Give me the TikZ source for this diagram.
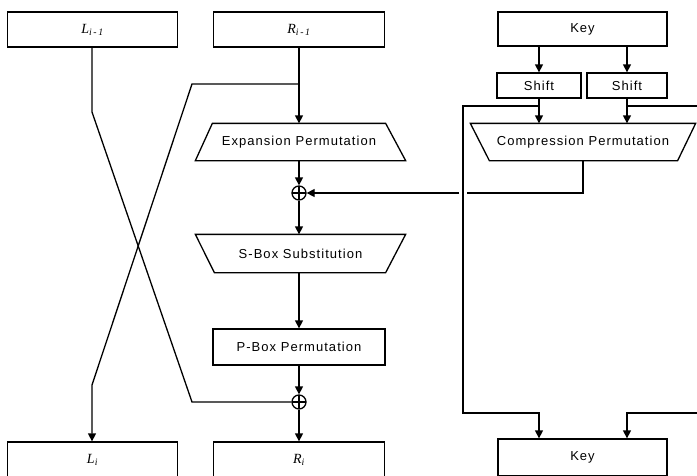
\documentclass[tikz,border=0pt]{standalone}
\usepackage{fontspec}
\setmainfont{Liberation Sans}[LetterSpace=8]
\newfontfamily\labfont{Liberation Serif}
\usetikzlibrary{arrows.meta}
\newcommand{\lab}[2]{{\labfont\itshape\fontsize{14}{16}\selectfont #1\textsubscript{#2}}}
\begin{document}
\begin{tikzpicture}[x=1pt,y=-1pt,
  line width=1.3pt,
  every node/.style={font=\fontsize{13}{15}\selectfont},
  box/.style={draw, rectangle, inner sep=0pt},
  trap/.style={rectangle, inner sep=0pt, minimum height=36pt},
  arr/.style={-{Triangle[length=8pt,width=8pt]}},
  xorn/.style={circle, draw, minimum size=14pt, inner sep=0pt,
    path picture={\draw[line width=1.1pt] (path picture bounding box.north) -- (path picture bounding box.south)
      (path picture bounding box.west) -- (path picture bounding box.east);}}
]
\useasboundingbox (0,0) rectangle (697,475);
\clip (0,0) rectangle (697,475);

% top row
\node[box, minimum width=170pt, minimum height=35pt] (L0) at (92.5,29.5) {\lab{L}{i\,-\,1}};
\node[box, minimum width=171pt, minimum height=35pt] (R0) at (299,29.5) {\lab{R}{i\,-\,1}};
\node[box, minimum width=169pt, minimum height=34pt] (K0) at (582.5,29) {Key};
\node[box, minimum width=84pt, minimum height=25pt] (S1) at (539,85.5) {Shift};
\node[box, minimum width=80pt, minimum height=25pt] (S2) at (627,85.5) {Shift};

% trapezoids
\node[trap, minimum width=224pt] (CP) at (583,142) {Compression Permutation};
\draw (CP.north west) -- (CP.north east) -- ([xshift=-18pt]CP.south east) -- ([xshift=19pt]CP.south west) -- cycle;
\node[trap, minimum width=172pt] (EP) at (299,142) {Expansion Permutation};
\draw (EP.north west) -- (EP.north east) -- ([xshift=20pt]EP.south east) -- ([xshift=-17pt]EP.south west) -- cycle;
\node[xorn] (X1) at (299,193) {};
\node[trap, minimum width=209pt, minimum height=37pt] (SB) at (300.5,253.5) {S-Box Substitution};
\draw (SB.north west) -- (SB.north east) -- ([xshift=-20pt]SB.south east) -- ([xshift=19pt]SB.south west) -- cycle;
\node[box, minimum width=172pt, minimum height=36pt] (PB) at (299,347) {P-Box Permutation};
\node[xorn] (X2) at (299,402) {};

% bottom row
\node[box, minimum width=170pt, minimum height=36pt] (L1) at (92.5,460) {\lab{L}{i}};
\node[box, minimum width=171pt, minimum height=36pt] (R1) at (299,460) {\lab{R}{i}};
\node[box, minimum width=169pt, minimum height=37pt] (K1) at (582.5,457.5) {Key};

% main column
\draw[arr] (R0.south) -- (EP.north);
\draw[arr] (EP.south) -- (X1.north);
\draw[arr] (X1.south) -- (X1.south |- SB.north);
\draw[arr] (X1.south |- SB.south) -- (PB.north);
\draw[arr] (PB.south) -- (X2.north);
\draw[arr] (X2.south) -- (R1.north);

% crossing lines
\coordinate (rb) at (299,84);
\coordinate (rc) at (192,84);
\coordinate (rd) at (92,385);
\draw[arr] (rb) -- (rc) -- (rd) -- (rd |- L1.north);
\coordinate (la) at (92,112);
\coordinate (lb) at (192,402);
\draw (L0.south -| la) -- (la) -- (lb) -- (X2.west);

% key schedule
\draw[arr] (K0.south -| S1) -- (S1.north);
\draw[arr] (K0.south -| S2) -- (S2.north);
\draw[arr] (S1.south) -- (S1.south |- CP.north);
\draw[arr] (S2.south) -- (S2.south |- CP.north);
\coordinate (ka) at (463,106);
\coordinate (kb) at (463,413);
\coordinate (kc) at (700,106);
\coordinate (kd) at (700,413);
\draw[arr] (S1 |- ka) -- (ka) -- (kb) -- (S1 |- kb) -- (S1 |- K1.north);
\draw[arr] (S2 |- kc) -- (kc) -- (kd) -- (S2 |- kd) -- (S2 |- K1.north);

% compression output with gap at crossing
\coordinate (co) at (583,193);
\coordinate (gr) at (467,193);
\coordinate (gl) at (459,193);
\draw (CP.south) -- (co) -- (gr);
\draw[arr] (gl) -- (X1.east);
\end{tikzpicture}
\end{document}
